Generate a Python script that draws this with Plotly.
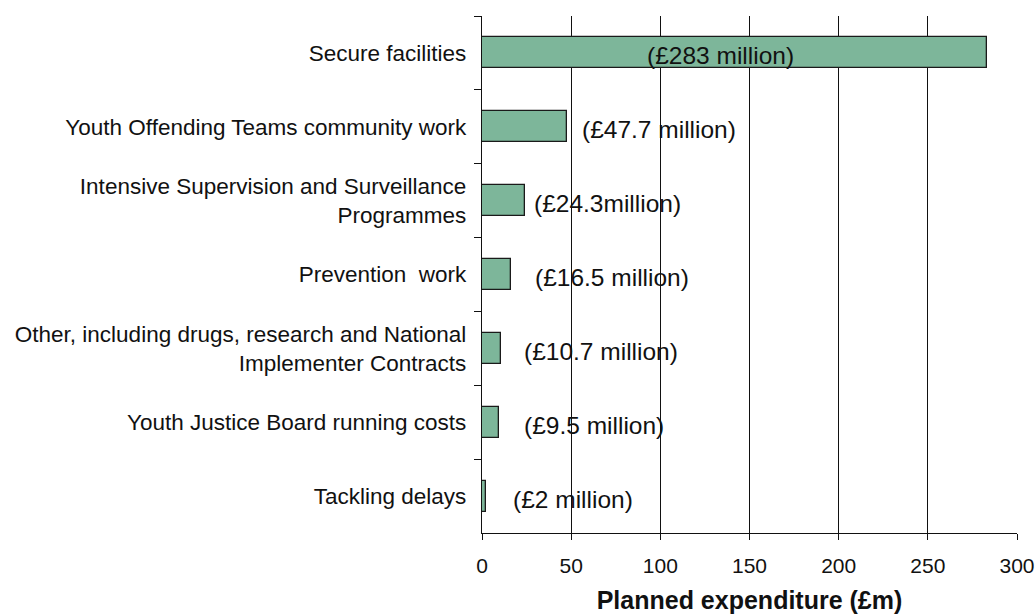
import plotly.graph_objects as go

categories = [
    "Secure facilities",
    "Youth Offending Teams community work",
    "Intensive Supervision and Surveillance<br>Programmes",
    "Prevention  work",
    "Other, including drugs, research and National<br>Implementer Contracts",
    "Youth Justice Board running costs",
    "Tackling delays",
]
values = [283, 47.7, 24.3, 16.5, 10.7, 9.5, 2]
labels = ["(£283 million)", "(£47.7 million)", "(£24.3million)", "(£16.5 million)",
          "(£10.7 million)", "(£9.5 million)", "(£2 million)"]
label_x = [133.7, 99.2, 70.6, 72.9, 67, 63, 51]

fig = go.Figure()
fig.add_trace(go.Bar(
    y=categories, x=values, orientation="h", width=0.42,
    marker=dict(color="#7db69a", line=dict(color="#1a1a1a", width=1.3)),
    hoverinfo="skip",
))
for c, t, lx in zip(categories, labels, label_x):
    fig.add_annotation(x=lx, y=c, xref="x", yref="y", text=t, showarrow=False,
                       yshift=-3,
                       font=dict(family="Liberation Sans, Arial", size=24.5, color="#111"))

fig.update_layout(
    width=1036, height=614,
    margin=dict(l=482, r=19, t=16, b=81),
    paper_bgcolor="white", plot_bgcolor="white",
    showlegend=False,
    font=dict(family="Liberation Sans, Arial", color="#111"),
    bargap=0,
)
fig.update_xaxes(
    range=[0, 300], tickvals=[0, 50, 100, 150, 200, 250, 300],
    showgrid=True, gridcolor="#111", gridwidth=1.3,
    showline=True, linecolor="#111", linewidth=1.3,
    ticks="outside", ticklen=6, tickcolor="#111",
    tickfont=dict(size=21), zeroline=False, ticklabelstandoff=8,
    automargin=False,
    title=dict(text="<b>Planned expenditure (£m)</b>", font=dict(size=25), standoff=15),
)
fig.update_yaxes(
    autorange="reversed", type="category",
    showline=True, linecolor="#111", linewidth=1.3,
    ticks="outside", ticklen=7, tickcolor="#111", tickson="boundaries",
    tickfont=dict(size=22.5), showgrid=False, ticklabelstandoff=10,
    automargin=False,
)
fig.write_html("out.html")
